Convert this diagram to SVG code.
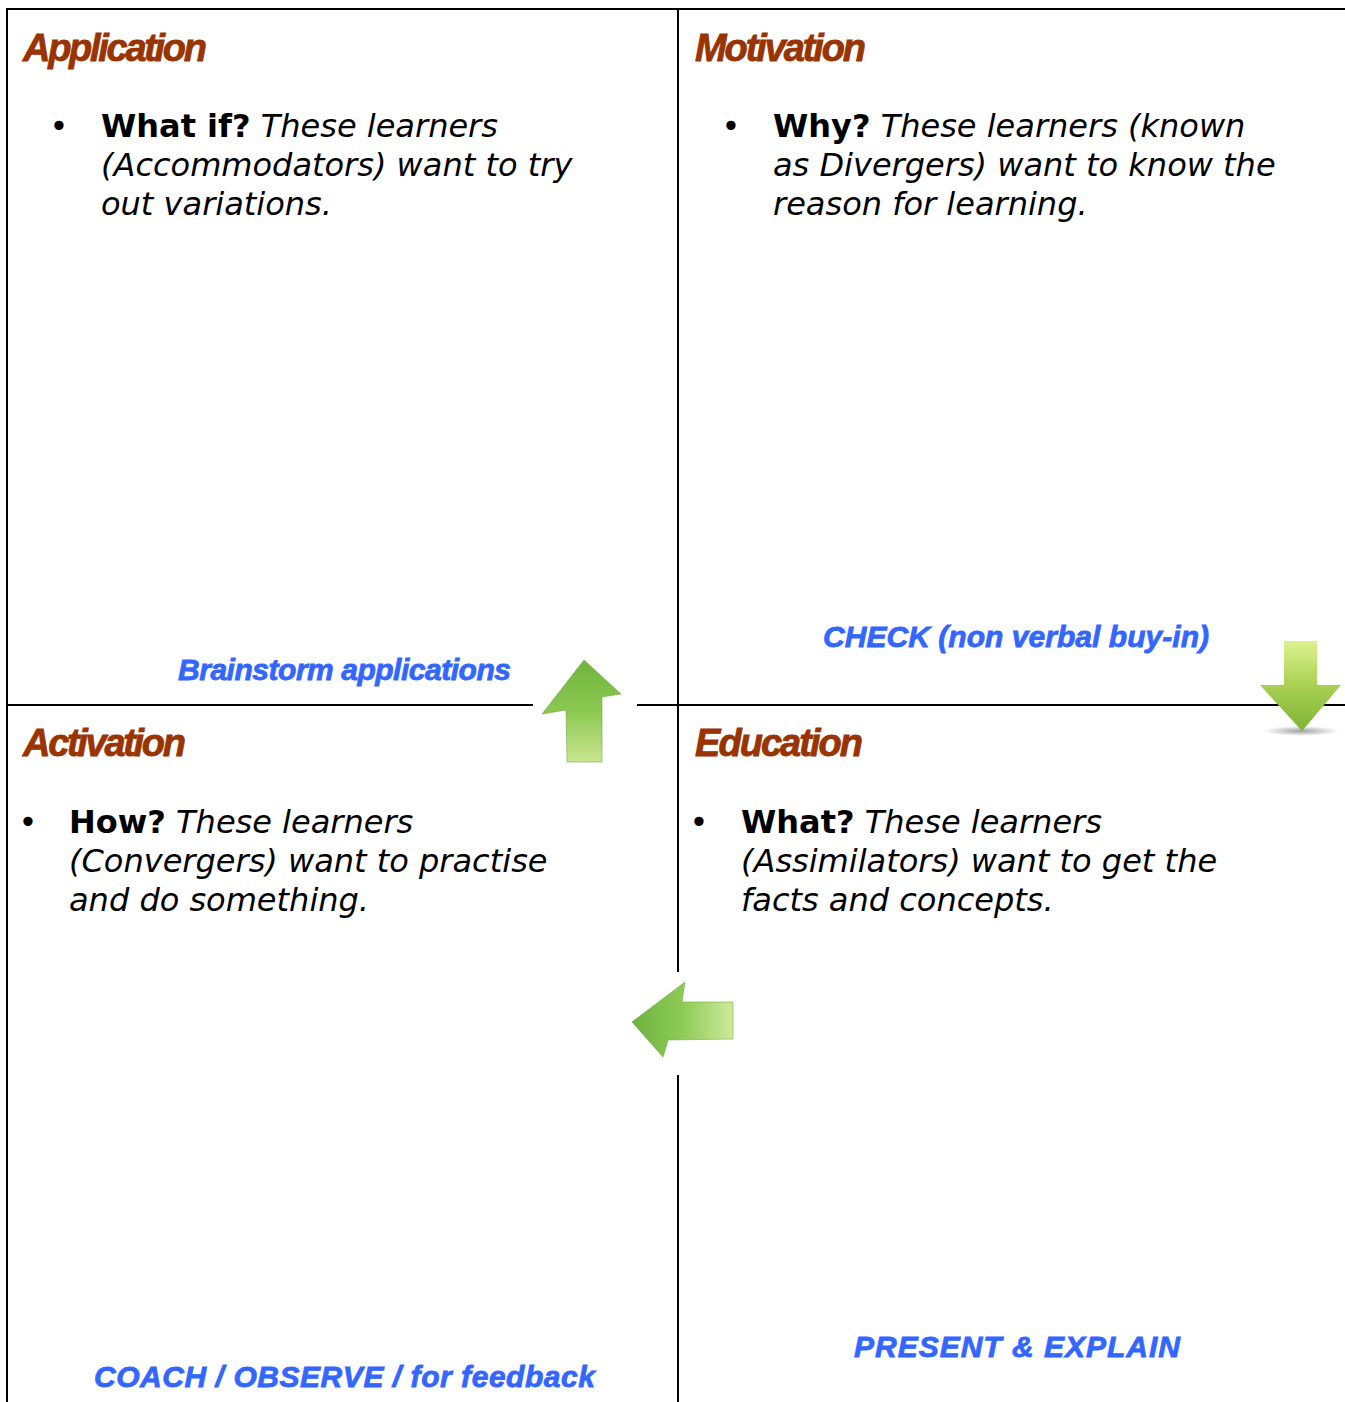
<svg xmlns="http://www.w3.org/2000/svg" width="1345" height="1402" viewBox="0 0 1345 1402">
<style>
.grid{stroke:#000;stroke-width:2;fill:none}
.head{font-family:"Liberation Sans",Arial,sans-serif;font-weight:bold;font-style:italic;font-size:38px;fill:#993300;stroke:#993300;stroke-width:0.8}
.body{font-family:"DejaVu Sans",Verdana,sans-serif;font-size:32px;fill:#000}
.b{font-weight:bold;font-style:normal}
.i{font-style:italic}
.lbl{font-family:"Liberation Sans",Arial,sans-serif;font-weight:bold;font-style:italic;font-size:30px;fill:#3366FF;stroke:#3366FF;stroke-width:0.8}
.bul{font-family:"DejaVu Sans",Verdana,sans-serif;font-size:32px;fill:#000;text-anchor:middle}
</style>
<defs>
<linearGradient id="gUp" x1="0" y1="0" x2="0" y2="1">
<stop offset="0" stop-color="#6FB43C"/>
<stop offset="0.5" stop-color="#8CC851"/>
<stop offset="1" stop-color="#CBE690"/>
</linearGradient>
<linearGradient id="gDown" x1="0" y1="0" x2="0" y2="1">
<stop offset="0" stop-color="#DCF18E"/>
<stop offset="0.5" stop-color="#A9D052"/>
<stop offset="1" stop-color="#7DB335"/>
</linearGradient>
<linearGradient id="gLeft" x1="0" y1="0" x2="1" y2="0">
<stop offset="0" stop-color="#6DB23E"/>
<stop offset="0.5" stop-color="#8ECB55"/>
<stop offset="1" stop-color="#CFE99C"/>
</linearGradient>
<radialGradient id="gShadow" cx="0.5" cy="0.5" r="0.5">
<stop offset="0" stop-color="#888" stop-opacity="0.8"/>
<stop offset="1" stop-color="#888" stop-opacity="0"/>
</radialGradient>
</defs>

<g id="connectors">
<line class="grid" x1="6" y1="9" x2="1345" y2="9"/>
<line class="grid" x1="7" y1="8" x2="7" y2="1402"/>
<line class="grid" x1="678" y1="8" x2="678" y2="972"/>
<line class="grid" x1="678" y1="1075" x2="678" y2="1402"/>
<line class="grid" x1="6" y1="705" x2="533" y2="705"/>
<line class="grid" x1="637" y1="705" x2="1345" y2="705"/>
</g>

<g id="application">
<text class="head" x="23" y="61" textLength="184" lengthAdjust="spacing">Application</text>
<text class="bul" x="59" y="137">•</text>
<text class="body" x="101" y="137"><tspan class="b">What if?</tspan><tspan class="i"> These learners</tspan></text>
<text class="body i" x="101" y="176">(Accommodators) want to try</text>
<text class="body i" x="101" y="215">out variations.</text>
<text class="lbl" x="178" y="680" textLength="333" lengthAdjust="spacing">Brainstorm applications</text>
</g>

<g id="motivation">
<text class="head" x="695" y="61" textLength="171" lengthAdjust="spacing">Motivation</text>
<text class="bul" x="731" y="137">•</text>
<text class="body" x="773" y="137"><tspan class="b">Why?</tspan><tspan class="i"> These learners (known</tspan></text>
<text class="body i" x="773" y="176">as Divergers) want to know the</text>
<text class="body i" x="773" y="215">reason for learning.</text>
<text class="lbl" x="823" y="647" textLength="386" lengthAdjust="spacing">CHECK (non verbal buy-in)</text>
</g>

<g id="activation">
<text class="head" x="23" y="756" textLength="163" lengthAdjust="spacing">Activation</text>
<text class="bul" x="28" y="833">•</text>
<text class="body" x="69" y="833"><tspan class="b">How?</tspan><tspan class="i"> These learners</tspan></text>
<text class="body i" x="69" y="872">(Convergers) want to practise</text>
<text class="body i" x="69" y="911">and do something.</text>
<text class="lbl" x="94" y="1387" textLength="501" lengthAdjust="spacing">COACH / OBSERVE / for feedback</text>
</g>

<g id="education">
<text class="head" x="695" y="756" textLength="168" lengthAdjust="spacing">Education</text>
<text class="bul" x="699" y="833">•</text>
<text class="body" x="741" y="833"><tspan class="b">What?</tspan><tspan class="i"> These learners</tspan></text>
<text class="body i" x="741" y="872">(Assimilators) want to get the</text>
<text class="body i" x="741" y="911">facts and concepts.</text>
<text class="lbl" x="854" y="1357" textLength="326" lengthAdjust="spacing">PRESENT &amp; EXPLAIN</text>
</g>

<g id="arrow-up">
<polygon points="584,660 621,694 602,697 602,762 567,762 566,710 542,714" fill="url(#gUp)" stroke="#5E9E35" stroke-width="1" stroke-opacity="0.5"/>
</g>

<g id="arrow-down">
<ellipse cx="1301" cy="731" rx="38" ry="5" fill="url(#gShadow)"/>
<polygon points="1284,641 1317,641 1317,685 1341,685 1302,731 1260,685 1284,685" fill="url(#gDown)"/>
</g>

<g id="arrow-left">
<polygon points="632,1022 685,982 682,1002 733,1002 733,1039 668,1040 663,1057" fill="url(#gLeft)" stroke="#5E9E35" stroke-width="1" stroke-opacity="0.5"/>
</g>
</svg>
